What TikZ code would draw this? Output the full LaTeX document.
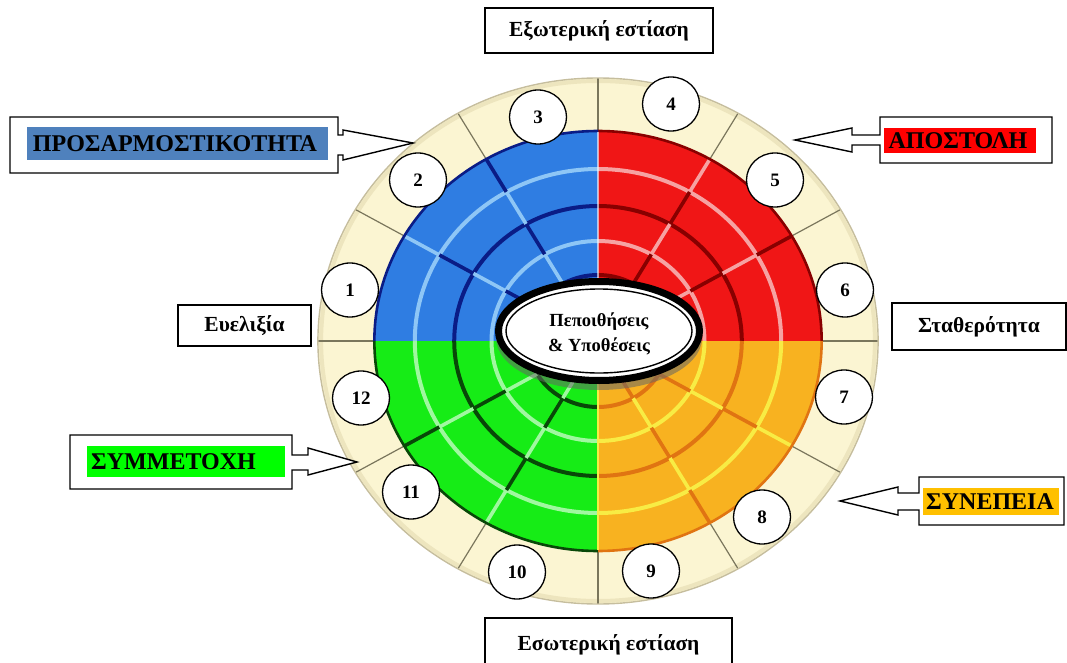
\documentclass[tikz,border=0pt]{standalone}
\usepackage{fontspec}
\setmainfont{Liberation Serif}
\usetikzlibrary{shapes.geometric}

\definecolor{cream}{HTML}{FBF5D2}
\definecolor{creamedge}{HTML}{EDE5BE}
\definecolor{spokegray}{HTML}{7A765C}
\definecolor{rimgray}{HTML}{C6BE9E}
\definecolor{qblue}{HTML}{2F7DE2}
\definecolor{qblueL}{HTML}{8EC6F6}
\definecolor{qblueD}{HTML}{0A1C86}
\definecolor{qred}{HTML}{F01616}
\definecolor{qredL}{HTML}{F6A2A2}
\definecolor{qredD}{HTML}{880000}
\definecolor{qgreen}{HTML}{16EC16}
\definecolor{qgreenL}{HTML}{A0F8A0}
\definecolor{qgreenD}{HTML}{084808}
\definecolor{qorange}{HTML}{F8B220}
\definecolor{qorangeL}{HTML}{F8EC44}
\definecolor{qorangeD}{HTML}{E07412}
\definecolor{tagblue}{HTML}{4F81BD}
\definecolor{tagred}{HTML}{FF0000}
\definecolor{taggreen}{HTML}{00FF00}
\definecolor{tagorange}{HTML}{FFC000}

\begin{document}
\begin{tikzpicture}[x=1pt,y=-1pt,
  spoke/.style={spokegray, line width=1.2pt},
  rim/.style={rimgray, line width=1.4pt},
  numdot/.style={ellipse, draw=black, line width=1.3pt, fill=white,
    minimum width=57pt, minimum height=54pt, inner sep=0pt,
    font=\bfseries\fontsize{19}{20}\selectfont},
  plainbox/.style={rectangle, draw=black, line width=1.4pt, fill=white,
    inner sep=0pt, font=\bfseries\fontsize{21.5}{24}\selectfont},
  callout/.style={draw=black, line width=1.4pt, fill=white},
  tagtext/.style={inner sep=0pt, font=\bfseries\fontsize{24}{26}\selectfont},
]
\useasboundingbox (0,0) rectangle (1067,663);

% ---- wheel: cream outer ring and four coloured quadrants ----
\begin{scope}[shift={(598,341)}, xscale=1.065, yscale=-1]
  \fill[cream] (0,0) circle[radius=263];
  \draw[creamedge, line width=4pt] (0,0) circle[radius=260];
  \foreach \k in {0,30,...,330} \draw[spoke] (\k:205) -- (\k:263);
  \draw[rim] (0,0) circle[radius=263];
  \foreach \a/\qc in {0/qred,90/qblue,180/qgreen,270/qorange}{
    \fill[\qc] (0,0) -- (\a:210) arc[start angle=\a, delta angle=90, radius=210] -- cycle;
    \foreach \r/\t in {172/L,135/D,100/L,66/D}
      \draw[line width=4pt, \qc\t] (\a:\r) arc[start angle=\a, delta angle=90, radius=\r];
    \foreach \j/\ang in {0/30,1/60}{
      \foreach \i/\ro/\ri in {0/210/172,1/172/135,2/135/100,3/100/66,4/66/20}{
        \pgfmathtruncatemacro{\pp}{mod(\i+\j,2)}
        \ifnum\pp=0 \def\tc{D}\else\def\tc{L}\fi
        \draw[line width=3.6pt, \qc\tc] (\a+\ang:\ro) -- (\a+\ang:\ri);
      }
    }
    \draw[line width=2.6pt, \qc D] (\a:210) arc[start angle=\a, delta angle=90, radius=210];
  }
  \draw[white, opacity=0.6, line width=1.4pt] (90:20) -- (90:209);
  \draw[qorangeL, line width=1.4pt] (270:20) -- (270:209);
\end{scope}

% ---- centre ----
\fill[black!60, opacity=0.55] (599,338) ellipse[x radius=103, y radius=52];
\node[ellipse, draw=black, line width=7pt, fill=white,
      minimum width=201pt, minimum height=99pt, inner sep=0pt] (core) at (599,331) {};
\draw[black, line width=1.4pt] (core.center) ellipse[x radius=93, y radius=42];
\node[align=center, font=\bfseries\fontsize{18.5}{25}\selectfont] (coretext) at (599,334)
  {Πεποιθήσεις\\\& Υποθέσεις};

% ---- numbered segments ----
\node[numdot] (n1)  at (350,290) {1};
\node[numdot] (n2)  at (418,180) {2};
\node[numdot] (n3)  at (538,117) {3};
\node[numdot] (n4)  at (671,104) {4};
\node[numdot] (n5)  at (775,180) {5};
\node[numdot] (n6)  at (845,290) {6};
\node[numdot] (n7)  at (844,397) {7};
\node[numdot] (n8)  at (762,517) {8};
\node[numdot] (n9)  at (651,571) {9};
\node[numdot] (n10) at (517,572) {10};
\node[numdot] (n11) at (411,492) {11};
\node[numdot] (n12) at (361,398) {12};

% ---- axis labels ----
\node[plainbox, minimum width=228pt, minimum height=45pt] (ext) at (599,30.5) {Εξωτερική εστίαση};
\node[plainbox, minimum width=247pt, minimum height=58pt] (int) at (608.5,647) {\raisebox{9pt}{Εσωτερική εστίαση}};
\node[plainbox, minimum width=133pt, minimum height=41pt] (flex) at (244.5,325.5) {Ευελιξία};
\node[plainbox, minimum width=174pt, minimum height=47pt] (stab) at (979,326.5) {Σταθερότητα};

% ---- arrow callouts ----
\coordinate (tipA) at (413,143);
\draw[callout] (10,117) -- (338,117) -- (338,135) -- (343,135) -- (343,130) -- (tipA)
  -- (343,160) -- (343,155) -- (338,155) -- (338,173) -- (10,173) -- cycle;
\fill[tagblue] (27,127) rectangle (328,160);
\node[tagtext] (adapt) at (175,144) {ΠΡΟΣΑΡΜΟΣΤΙΚΟΤΗΤΑ};

\coordinate (tipB) at (795,140);
\draw[callout] (1052,117) -- (880,117) -- (880,135) -- (852,135) -- (852,128) -- (tipB)
  -- (852,152) -- (852,145) -- (880,145) -- (880,163) -- (1052,163) -- cycle;
\fill[tagred] (884,128) rectangle (1036,153);
\node[tagtext] (mission) at (958,141) {ΑΠΟΣΤΟΛΗ};

\coordinate (tipC) at (357,462);
\draw[callout] (70,435) -- (292,435) -- (292,455) -- (308,455) -- (308,448) -- (tipC)
  -- (308,475) -- (308,470) -- (292,470) -- (292,489) -- (70,489) -- cycle;
\fill[taggreen] (87,446) rectangle (285,477);
\node[tagtext, anchor=west] (involve) at (91,462) {ΣΥΜΜΕΤΟΧΗ};

\coordinate (tipD) at (840,501);
\draw[callout] (1064,477) -- (919,477) -- (919,493) -- (898,493) -- (898,487) -- (tipD)
  -- (898,515) -- (898,510) -- (919,510) -- (919,525) -- (1064,525) -- cycle;
\fill[tagorange] (923,488) rectangle (1059,515);
\node[tagtext] (consist) at (990,502) {ΣΥΝΕΠΕΙΑ};
\end{tikzpicture}
\end{document}
